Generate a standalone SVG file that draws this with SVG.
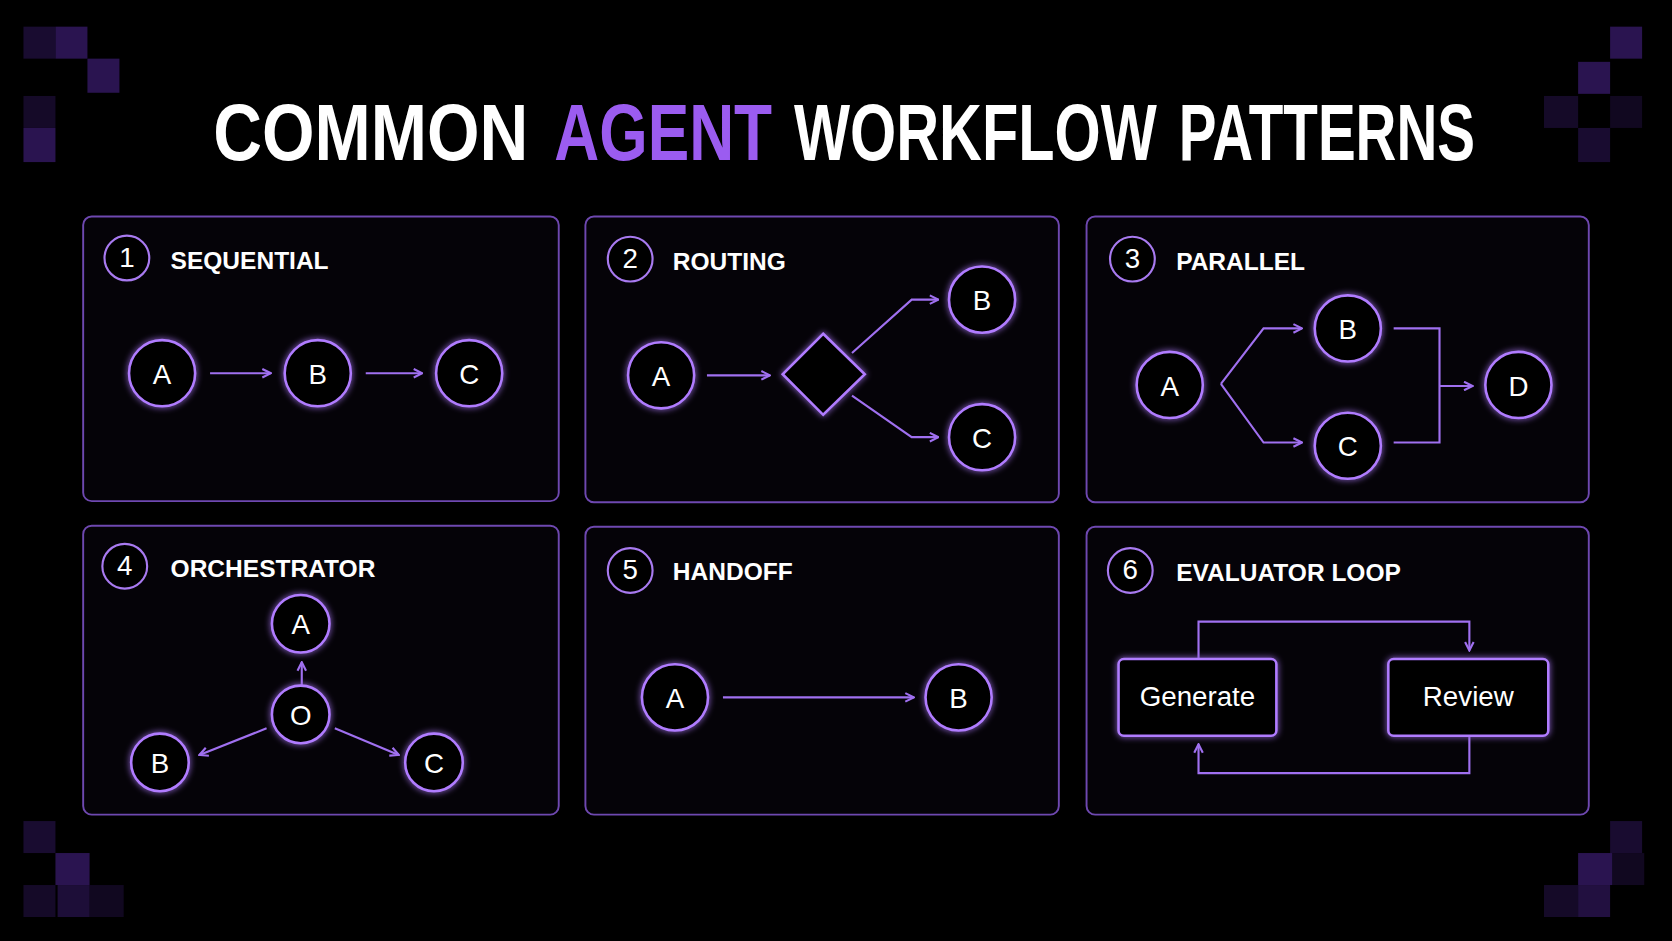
<svg xmlns="http://www.w3.org/2000/svg" width="1672" height="941" viewBox="0 0 1672 941">
<defs>
<style>
.pn{fill:#050308;stroke:#6e48b0;stroke-width:1.8}
.nd{fill:#000;stroke:#b07cff;stroke-width:2.4;filter:url(#g)}
.num{fill:#000;stroke:#a87af0;stroke-width:2}
.t{font-family:"Liberation Sans",Arial,sans-serif;fill:#fff;font-weight:bold;font-size:74px}
.tt{font-family:"Liberation Sans",Arial,sans-serif;font-weight:bold;font-size:23px;fill:#fff}
.nl{font-family:"Liberation Sans",Arial,sans-serif;font-size:26px;fill:#fff;text-anchor:middle}
.c{fill:none;stroke:#a070f0;stroke-width:2;marker-end:url(#a)}
.px{fill:#2a1450}
</style>
<marker id="a" viewBox="0 0 10 10" refX="9" refY="5" markerWidth="10" markerHeight="10" markerUnits="userSpaceOnUse" orient="auto"><path d="M1 1L9 5L1 9" fill="none" stroke="#a070f0" stroke-width="2"/></marker>
<filter id="g" x="-50%" y="-50%" width="200%" height="200%"><feGaussianBlur in="SourceGraphic" stdDeviation="3" result="b"/><feMerge><feMergeNode in="b"/><feMergeNode in="SourceGraphic"/></feMerge></filter>
</defs>
<rect width="1672" height="941" fill="#000"/>
<g transform="scale(1.0663)">
<g id="decor">
<rect class="px" x="22" y="25" width="30" height="30" opacity="0.6"/><rect class="px" x="52" y="25" width="30" height="30"/><rect class="px" x="82" y="55" width="30" height="32"/><rect class="px" x="22" y="90" width="30" height="30" opacity="0.5"/><rect class="px" x="22" y="120" width="30" height="32"/>
<rect class="px" x="1510" y="25" width="30" height="30"/><rect class="px" x="1480" y="58" width="30" height="30"/><rect class="px" x="1448" y="90" width="32" height="30" opacity="0.5"/><rect class="px" x="1480" y="120" width="30" height="32" opacity="0.6"/><rect class="px" x="1510" y="90" width="30" height="30" opacity="0.4"/>
<rect class="px" x="22" y="770" width="30" height="30" opacity="0.6"/><rect class="px" x="52" y="800" width="32" height="30"/><rect class="px" x="22" y="830" width="30" height="30" opacity="0.5"/><rect class="px" x="54" y="830" width="30" height="30" opacity="0.7"/><rect class="px" x="84" y="830" width="32" height="30" opacity="0.4"/>
<rect class="px" x="1510" y="770" width="30" height="30" opacity="0.6"/><rect class="px" x="1480" y="800" width="32" height="30"/><rect class="px" x="1448" y="830" width="32" height="30" opacity="0.5"/><rect class="px" x="1480" y="830" width="30" height="30" opacity="0.8"/><rect class="px" x="1512" y="800" width="30" height="30" opacity="0.4"/>
</g>
<g id="title" transform="scale(0.82 1)">
<text class="t" x="244" y="150" textLength="360" lengthAdjust="spacingAndGlyphs">COMMON</text>
<text class="t" x="634" y="150" textLength="249" lengthAdjust="spacingAndGlyphs" style="fill:#9b5cf0">AGENT</text>
<text class="t" x="908" y="150" textLength="415" lengthAdjust="spacingAndGlyphs">WORKFLOW</text>
<text class="t" x="1348" y="150" textLength="339" lengthAdjust="spacingAndGlyphs">PATTERNS</text>
</g>

<g id="p1"><rect class="pn" x="78" y="203" width="446" height="267" rx="8"/><circle class="num" cx="119" cy="242" r="21"/><text class="nl" x="119" y="250" font-size="22">1</text><text class="tt" x="160" y="252">SEQUENTIAL</text></g>
<g id="p2"><rect class="pn" x="549" y="203" width="444" height="268" rx="8"/><circle class="num" cx="591" cy="243" r="21"/><text class="nl" x="591" y="251" font-size="22">2</text><text class="tt" x="631" y="253">ROUTING</text></g>
<g id="p3"><rect class="pn" x="1019" y="203" width="471" height="268" rx="8"/><circle class="num" cx="1062" cy="243" r="21"/><text class="nl" x="1062" y="251" font-size="22">3</text><text class="tt" x="1103" y="253">PARALLEL</text></g>
<g id="p4"><rect class="pn" x="78" y="493" width="446" height="271" rx="8"/><circle class="num" cx="117" cy="531" r="21"/><text class="nl" x="117" y="539" font-size="22">4</text><text class="tt" x="160" y="541">ORCHESTRATOR</text></g>
<g id="p5"><rect class="pn" x="549" y="494" width="444" height="270" rx="8"/><circle class="num" cx="591" cy="535" r="21"/><text class="nl" x="591" y="543" font-size="22">5</text><text class="tt" x="631" y="544">HANDOFF</text></g>
<g id="p6"><rect class="pn" x="1019" y="494" width="471" height="270" rx="8"/><circle class="num" cx="1060" cy="535" r="21"/><text class="nl" x="1060" y="543" font-size="22">6</text><text class="tt" x="1103" y="545">EVALUATOR LOOP</text></g>

<g id="connectors">
<path class="c" d="M197 350H254"/><path class="c" d="M343 350H396"/>
<path class="c" d="M663 352H722"/>
<path class="c" d="M799 331L855 281H880"/><path class="c" d="M799 371L855 410H880"/>
<path class="c" d="M1145 360L1185 308H1221"/><path class="c" d="M1145 360L1185 415H1221"/>
<path fill="none" stroke="#a070f0" stroke-width="2" d="M1307 308H1350V415H1307"/><path class="c" d="M1350 362H1381"/>
<path class="c" d="M283 643V621"/><path class="c" d="M250 683L187 708"/><path class="c" d="M314 683L374 708"/>
<path class="c" d="M678 654H857"/>
<path class="c" d="M1124 617V583H1378V610"/><path class="c" d="M1378 690V725H1124V698"/>
</g>

<g id="nA1"><circle class="nd" cx="152" cy="350" r="31"/><text class="nl" x="152" y="360">A</text></g>
<g id="nB1"><circle class="nd" cx="298" cy="350" r="31"/><text class="nl" x="298" y="360">B</text></g>
<g id="nC1"><circle class="nd" cx="440" cy="350" r="31"/><text class="nl" x="440" y="360">C</text></g>
<g id="nA2"><circle class="nd" cx="620" cy="352" r="31"/><text class="nl" x="620" y="362">A</text></g>
<g id="nD2"><path class="nd" d="M772 313L811 351L772 389L734 351Z"/></g>
<g id="nB2"><circle class="nd" cx="921" cy="281" r="31"/><text class="nl" x="921" y="291">B</text></g>
<g id="nC2"><circle class="nd" cx="921" cy="410" r="31"/><text class="nl" x="921" y="420">C</text></g>
<g id="nA3"><circle class="nd" cx="1097" cy="361" r="31"/><text class="nl" x="1097" y="371">A</text></g>
<g id="nB3"><circle class="nd" cx="1264" cy="308" r="31"/><text class="nl" x="1264" y="318">B</text></g>
<g id="nC3"><circle class="nd" cx="1264" cy="418" r="31"/><text class="nl" x="1264" y="428">C</text></g>
<g id="nD3"><circle class="nd" cx="1424" cy="361" r="31"/><text class="nl" x="1424" y="371">D</text></g>
<g id="nA4"><circle class="nd" cx="282" cy="585" r="27"/><text class="nl" x="282" y="595">A</text></g>
<g id="nO4"><circle class="nd" cx="282" cy="670" r="27"/><text class="nl" x="282" y="680">O</text></g>
<g id="nB4"><circle class="nd" cx="150" cy="715" r="27"/><text class="nl" x="150" y="725">B</text></g>
<g id="nC4"><circle class="nd" cx="407" cy="715" r="27"/><text class="nl" x="407" y="725">C</text></g>
<g id="nA5"><circle class="nd" cx="633" cy="654" r="31"/><text class="nl" x="633" y="664">A</text></g>
<g id="nB5"><circle class="nd" cx="899" cy="654" r="31"/><text class="nl" x="899" y="664">B</text></g>
<g id="nG6"><rect class="nd" x="1049" y="618" width="148" height="72" rx="5"/><text class="nl" x="1123" y="662" font-size="23">Generate</text></g>
<g id="nR6"><rect class="nd" x="1302" y="618" width="150" height="72" rx="5"/><text class="nl" x="1377" y="662" font-size="23">Review</text></g>
</g>
</svg>
